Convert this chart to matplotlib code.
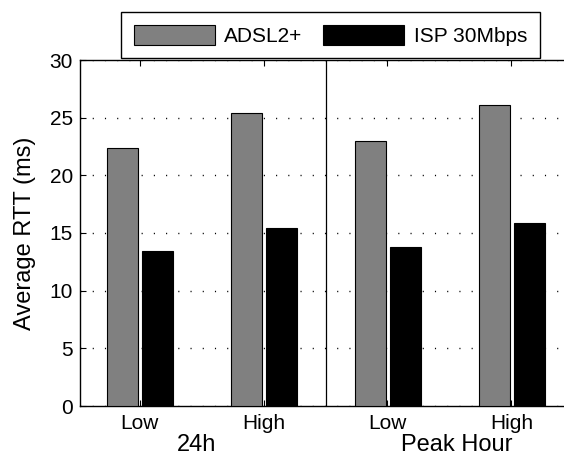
import numpy as np
import matplotlib
matplotlib.use('Agg')
import matplotlib.pyplot as plt
import matplotlib.transforms as mtransforms

plt.rcParams['font.family'] = ['Liberation Sans', 'DejaVu Sans']

groups = ['24h', 'Peak Hour']
levels = ['Low', 'High', 'Low', 'High']
adsl = [22.4, 25.4, 23.0, 26.1]
isp = [13.4, 15.4, 13.8, 15.9]
series_names = ['ADSL2+', 'ISP 30Mbps']

fig = plt.figure(figsize=(5.64, 4.55), dpi=100)
ax = fig.add_axes([80/564, 49/455, 491/564, 346/455])

x = np.arange(1, len(levels) + 1)
w = 0.245
ax.bar(x - 0.137, adsl, w, color='#808080', edgecolor='black', linewidth=0.8,
       label=series_names[0], zorder=3)
ax.bar(x + 0.145, isp, w, color='black', edgecolor='black', linewidth=0.8,
       label=series_names[1], zorder=3)

ax.set_xlim(0.52, 4.48)
ax.set_ylim(0, 30)
ax.set_yticks(np.arange(0, 31, 5))
ax.set_xticks(x)
ax.set_xticklabels(levels)
ax.tick_params(direction='in', length=4, labelsize=15, top=True, right=True)
ax.tick_params(axis='x', pad=6)
ax.tick_params(axis='y', pad=5)
ax.yaxis.grid(True, linestyle=(0, (0.8, 8)), color='black', linewidth=1, zorder=0)
ax.axvline(2.5, color='black', linewidth=0.9, zorder=4)
for s in ax.spines.values():
    s.set_linewidth(1.0)

ax.set_ylabel('Average RTT (ms)', fontsize=17, labelpad=10)

# group labels under the tick labels
trans = mtransforms.blended_transform_factory(ax.transData, ax.transAxes)
ax.text(1.46, -0.13, groups[0], transform=trans, ha='center', va='baseline', fontsize=17)
ax.text(3.56, -0.13, groups[1], transform=trans, ha='center', va='baseline', fontsize=17)

fig.legend(loc='upper left', bbox_to_anchor=(121/564, 1 - 12/455), ncol=2,
           fontsize=15, frameon=True, fancybox=False, edgecolor='black',
           handlelength=3.9, handleheight=1.1, columnspacing=1.0,
           borderpad=0.6, handletextpad=0.45, borderaxespad=0, framealpha=1)

fig.savefig('out.png', dpi=100)
